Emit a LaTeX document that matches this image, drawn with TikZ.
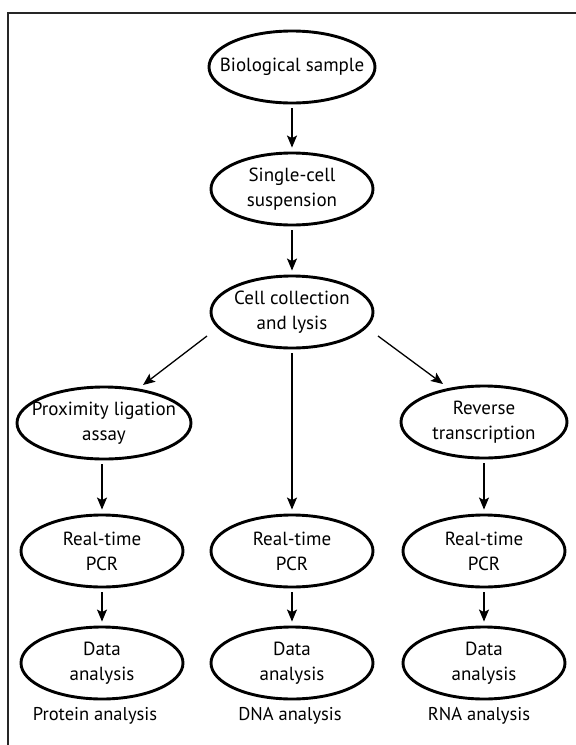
\documentclass[tikz,border=0pt]{standalone}
\usepackage{fontspec}
\setmainfont{PT Sans}
\usetikzlibrary{shapes.geometric,arrows.meta}
\begin{document}
\begin{tikzpicture}[x=1pt,y=-1pt,
  box/.style={ellipse,draw,line width=2.9pt,minimum width=162pt,minimum height=72pt,inner xsep=-20pt,inner ysep=0pt,align=center,font=\fontsize{19}{25}\selectfont},
  arr/.style={-{Stealth[length=12pt,width=10pt,inset=2.5pt]},line width=1.3pt,shorten <=4pt,shorten >=4pt},
  lab/.style={font=\fontsize{18.5}{22}\selectfont,inner sep=0pt}]
\useasboundingbox (0,0) rectangle (576,745);
\draw[line width=2.5pt,black!85] (8,746) -- (8,13) -- (577,13);
\node[box,minimum width=166pt] (bio) at (292,67) {Biological sample};
\node[box] (scs) at (292,189) {Single-cell\\suspension};
\node[box] (ccl) at (292,312) {Cell collection\\and lysis};
\node[box,minimum width=174pt] (pla) at (104,423) {Proximity ligation\\assay};
\node[box,minimum width=166pt] (rt) at (484,422) {Reverse\\transcription};
\node[box] (pcr1) at (102,551) {Real-time\\PCR};
\node[box] (pcr2) at (292,551) {Real-time\\PCR};
\node[box] (pcr3) at (484,551) {Real-time\\PCR};
\node[box] (da1) at (102,663) {Data\\analysis};
\node[box] (da2) at (292,663) {Data\\analysis};
\node[box] (da3) at (484,663) {Data\\analysis};
\node[lab] (l1) at (95,716) {Protein analysis};
\node[lab] (l2) at (290,716) {DNA analysis};
\node[lab] (l3) at (479,716) {RNA analysis};
\coordinate (dl0) at ([shift={(-85,24)}]ccl.center);
\coordinate (dl1) at ([shift={(39,-38)}]pla.center);
\coordinate (dr0) at ([shift={(86,24)}]ccl.center);
\coordinate (dr1) at ([shift={(-41,-38)}]rt.center);
\draw[arr] (bio) -- (scs);
\draw[arr] (scs) -- (ccl);
\draw[arr] (ccl) -- (pcr2);
\draw[arr,shorten <=0pt,shorten >=0pt] (dl0) -- (dl1);
\draw[arr,shorten <=0pt,shorten >=0pt] (dr0) -- (dr1);
\draw[arr] (pla.south -| pcr1) -- (pcr1);
\draw[arr] (rt) -- (pcr3);
\draw[arr] (pcr1) -- (da1);
\draw[arr] (pcr2) -- (da2);
\draw[arr] (pcr3) -- (da3);
\end{tikzpicture}
\end{document}
